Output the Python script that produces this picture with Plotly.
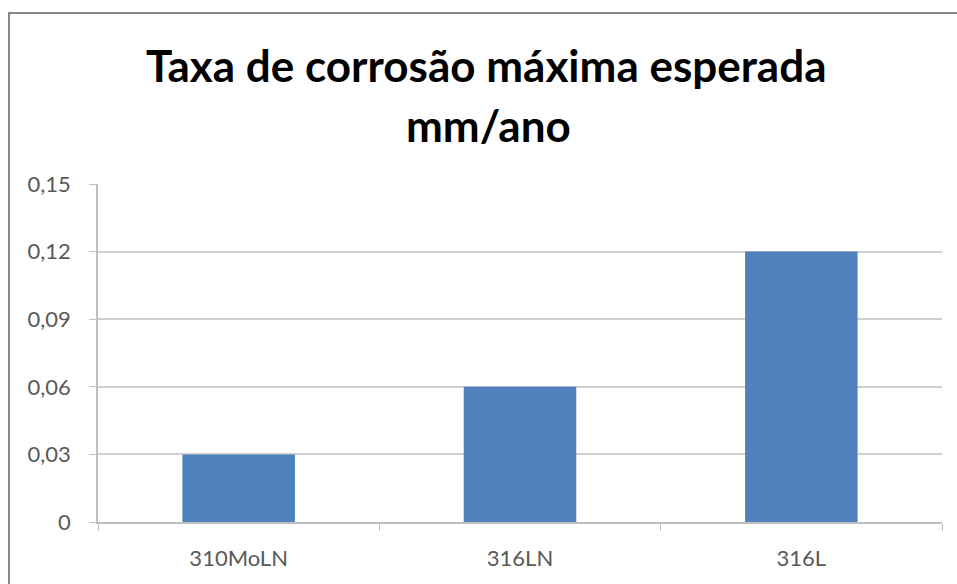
import plotly.graph_objects as go

# Maximum expected corrosion rate per alloy (mm/ano)
alloys = ["310MoLN", "316LN", "316L"]
rates = [0.03, 0.06, 0.12]
tick_values = [0, 0.03, 0.06, 0.09, 0.12, 0.15]
tick_labels = ["0", "0,03", "0,06", "0,09", "0,12", "0,15"]

W, H = 957, 584
L, R, T, B = 98, 15, 184, 62
pw, ph = W - L - R, H - T - B

def px_x(x):
    return (x - L) / pw

def px_y(y):
    return (H - B - y) / ph

fig = go.Figure(
    go.Bar(
        x=alloys,
        y=rates,
        marker=dict(color="#4F81BD", line=dict(width=0)),
        width=0.4,
    )
)

font_family = "Lato, 'Open Sans', sans-serif"

fig.update_layout(
    width=W,
    height=H,
    margin=dict(l=L, r=R, t=T, b=B),
    paper_bgcolor="white",
    plot_bgcolor="white",
    showlegend=False,
    font=dict(family=font_family, color="#595959", size=22),
    xaxis=dict(
        showgrid=False,
        showline=True,
        linecolor="#BFBFBF",
        linewidth=1.5,
        ticks="outside",
        ticklen=7,
        tickcolor="#BFBFBF",
        tickson="boundaries",
        tickfont=dict(size=22, color="#595959"),
        ticklabelstandoff=16,
        fixedrange=True,
    ),
    yaxis=dict(
        range=[0, 0.15],
        tickvals=tick_values,
        ticktext=tick_labels,
        showgrid=True,
        gridcolor="#D0D0D0",
        gridwidth=1.5,
        showline=True,
        linecolor="#BFBFBF",
        linewidth=1.5,
        ticks="outside",
        ticklen=7,
        tickcolor="#BFBFBF",
        tickfont=dict(size=22, color="#595959"),
        ticklabelstandoff=14,
        zeroline=False,
        fixedrange=True,
    ),
    shapes=[
        dict(
            type="rect",
            xref="paper",
            yref="paper",
            x0=px_x(9),
            x1=px_x(W + 10),
            y0=px_y(H + 10),
            y1=px_y(13),
            line=dict(color="#868686", width=2),
            fillcolor="rgba(0,0,0,0)",
            layer="below",
        )
    ],
    annotations=[
        dict(
            text="<b>Taxa de corrosão máxima esperada</b>",
            xref="paper",
            yref="paper",
            x=px_x(486),
            y=px_y(65),
            showarrow=False,
            font=dict(family=font_family, size=44, color="#000000"),
            xanchor="center",
            yanchor="middle",
        ),
        dict(
            text="<b>mm/ano</b>",
            xref="paper",
            yref="paper",
            x=px_x(488),
            y=px_y(125),
            showarrow=False,
            font=dict(family=font_family, size=44, color="#000000"),
            xanchor="center",
            yanchor="middle",
        ),
    ],
)

fig.write_html("out.html")
